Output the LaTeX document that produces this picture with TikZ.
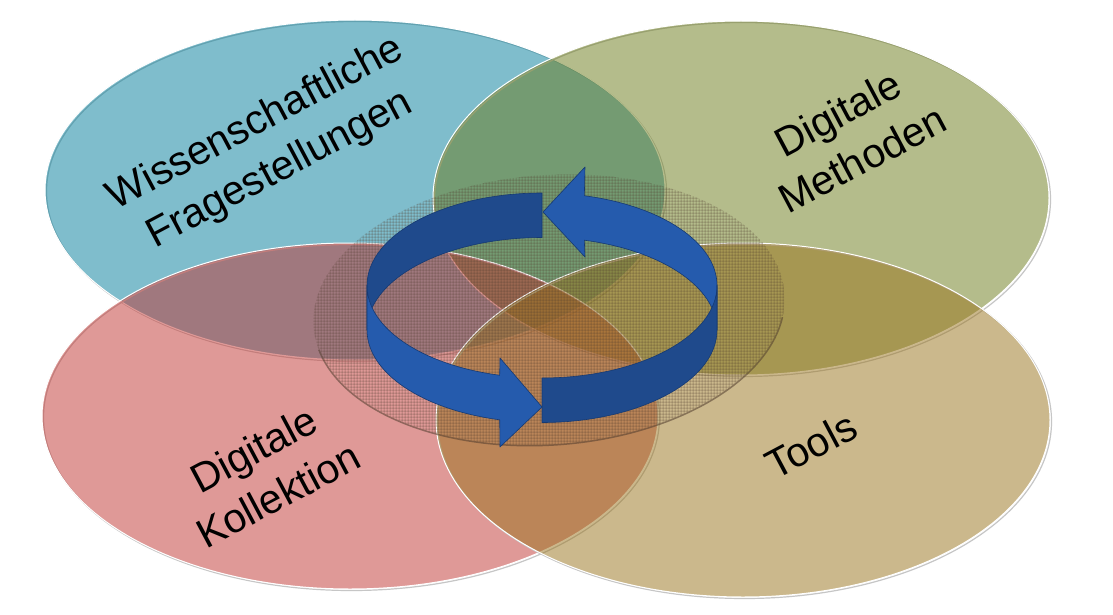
\documentclass[tikz,border=0pt]{standalone}
\usepackage{fontspec}
\setmainfont{Liberation Sans}
\usetikzlibrary{patterns.meta}
\definecolor{wissblue}{RGB}{0,125,155}
\definecolor{methgreen}{RGB}{107,123,25}
\definecolor{kollred}{RGB}{193,53,49}
\definecolor{tooltan}{RGB}{153,115,27}
\definecolor{hatchbrown}{RGB}{80,60,45}
\definecolor{arrowdark}{RGB}{31,74,140}
\definecolor{arrowlight}{RGB}{37,91,173}
\definecolor{arrowline}{RGB}{22,58,115}
\begin{document}
\begin{tikzpicture}[x=1pt, y=-1pt,
        disc/.style={fill opacity=0.5},
        discrim/.style={draw=white, line width=1pt},
        discshadow/.style={draw=gray!45, line width=1.2pt},
        disctext/.style={font=\fontsize{41}{52}\selectfont, align=center, rotate=28},
        banddark/.style={fill=arrowdark, draw=arrowline, line width=0.6pt, line join=round},
        bandlight/.style={fill=arrowlight, draw=arrowline, line width=0.6pt, line join=round}
        ]
        \useasboundingbox[fill=white] (0,0) rectangle (1113,615);
        % the four discs
        \foreach \cx/\cy/\rx/\ry/\col in {355/190/310/170/wissblue, 741/198/308/177/methgreen,
                350/416/308/173/kollred, 743/420/307/177/tooltan}{
            \draw[discshadow] (\cx+1.5,\cy+1.5) ellipse [x radius=\rx pt, y radius=\ry pt];
            \fill[disc, fill=\col] (\cx,\cy) ellipse [x radius=\rx pt, y radius=\ry pt];
            \draw[discrim] (\cx,\cy) ellipse [x radius=\rx pt, y radius=\ry pt];
        }
        % hatched centre
        \begin{scope}[transparency group, opacity=0.55]
            \fill[pattern={Hatch[angle=0, distance=3pt, line width=0.5pt]}, pattern color=hatchbrown,
                rotate around={4:(549,310)}] (549,310) ellipse [x radius=236pt, y radius=135pt];
            \draw[hatchbrown, line width=1.5pt, rotate around={4:(549,310)}]
                (549,310) ++(190:236pt and 135pt) arc [start angle=190, end angle=350, x radius=236pt, y radius=135pt];
        \end{scope}
        % ring of arrows
        \begin{scope}[shift={(542,285.5)}]
            % back half
            \filldraw[banddark] (90:175pt and 92.5pt) arc [start angle=90, end angle=180, x radius=175pt, y radius=92.5pt]
                -- ++(0,44.5) arc [start angle=180, end angle=90, x radius=175pt, y radius=92.5pt] -- cycle;
            \filldraw[bandlight] (0:175pt and 92.5pt) arc [start angle=0, end angle=76, x radius=175pt, y radius=92.5pt]
                -- (43,-118.5) -- (1,-73.5) -- (43,-28.5) -- (42.3,-45.3)
                arc [start angle=76, end angle=0, x radius=175pt, y radius=92.5pt] -- cycle;
            % front half
            \filldraw[banddark] (270:175pt and 92.5pt) arc [start angle=270, end angle=360, x radius=175pt, y radius=92.5pt]
                -- ++(0,44.5) arc [start angle=360, end angle=270, x radius=175pt, y radius=92.5pt] -- cycle;
            \filldraw[bandlight] (180:175pt and 92.5pt) arc [start angle=180, end angle=256, x radius=175pt, y radius=92.5pt]
                -- (-42,72.5) -- (0,121.5) -- (-42,161.5) -- (-42.3,134.3)
                arc [start angle=256, end angle=180, x radius=175pt, y radius=92.5pt] -- cycle;
        \end{scope}
        % labels
        \node[disctext] (wiss) at (268,147) {Wissenschaftliche\\Fragestellungen};
        \node[disctext] (meth) at (850,136) {Digitale\\Methoden};
        \node[disctext] (koll) at (266,472) {Digitale\\Kollektion};
        \node[disctext] (tools) at (811,445) {Tools};
\end{tikzpicture}
\end{document}
